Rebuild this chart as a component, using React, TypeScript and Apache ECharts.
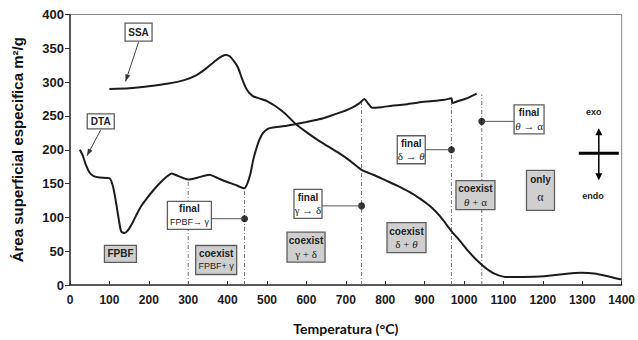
import React, { useEffect, useRef } from "react";
import * as echarts from "echarts";

// DTA trace: temperature (°C) and signal, drawn on the area scale
const dtaTemp = [
  25, 32, 40, 50, 60, 75, 100, 106, 112, 118, 124, 130, 138, 146, 156, 168, 180, 195, 210, 227,
  245, 258, 275, 300, 325, 354, 375, 396, 420, 442, 450, 458, 465, 472, 480, 490, 502, 515, 545,
  573, 600, 632, 660, 690, 715, 735, 747, 757, 767, 790, 817, 850, 884, 920, 950, 968, 971, 985,
  1002, 1018, 1032,
];
const dtaSignal = [
  200, 192, 178, 166, 161, 159, 158, 152, 138, 118, 96, 79, 77, 80, 89, 103, 116, 128, 139, 150,
  160, 165, 161, 156, 159, 163, 158, 153, 148, 143, 150, 165, 185, 200, 214, 225, 231, 233, 235,
  238, 241, 245, 250, 256, 262, 269, 275, 268, 262, 263, 265, 267, 270, 272, 274, 276, 269, 272,
  275, 279, 283,
];

// Specific surface area: temperature (°C) and m²/g
const ssaTemp = [
  100, 150, 200, 250, 290, 320, 345, 370, 385, 396, 406, 416, 426, 436, 445, 455, 465, 480, 500,
  520, 545, 573, 600, 632, 655, 680, 710, 741, 770, 800, 830, 860, 890, 915, 940, 969, 990, 1011,
  1030, 1045, 1062, 1080, 1104, 1150, 1205, 1250, 1297, 1330, 1365, 1400,
];
const ssaArea = [
  290, 291, 294, 298, 303, 310, 320, 332, 338, 340, 338, 331, 322, 306, 293, 284, 279, 276, 272,
  265, 254, 238, 226, 213, 205, 196, 184, 170, 163, 155, 147, 138, 127, 116, 101, 79, 65, 50,
  38, 30, 22, 16, 12, 12, 13, 16, 18, 17, 13, 8,
];

// Phase boundaries (°C) and the height each dash-dot guide reaches
const boundaryTemp = [300, 443, 740, 968, 1045];
const boundaryTop = [157, 144, 272, 276, 282];

// End points of each transformation
const endTemp = [443, 740, 968, 1045];
const endValue = [98, 117, 200, 242];

type Box = {
  at: [number, number];
  w: number;
  h: number;
  shaded: boolean;
  text: string;
  link?: number;
};

const boxes: Box[] = [
  { at: [174, 374], w: 27, h: 18, shaded: false, text: "{s|SSA}" },
  { at: [78, 242], w: 27, h: 15, shaded: false, text: "{s|DTA}" },
  { at: [128, 46], w: 32, h: 17, shaded: true, text: "{s|FPBF}" },
  { at: [371, 37], w: 41, h: 29, shaded: true, text: "{h|coexist}\n{m|FPBF+ γ}" },
  { at: [303, 103], w: 44, h: 28, shaded: false, text: "{h|final}\n{m|FPBF→ γ}", link: 0 },
  { at: [604, 120], w: 28, h: 29, shaded: false, text: "{h|final}\n{g|γ → δ}", link: 1 },
  { at: [599, 56], w: 38, h: 30, shaded: true, text: "{h|coexist}\n{g|γ + δ}" },
  { at: [854, 70], w: 39, h: 30, shaded: true, text: "{h|coexist}\n{g|δ + }{i|θ}" },
  { at: [866, 200], w: 28, h: 28, shaded: false, text: "{h|final}\n{g|δ → }{i|θ}", link: 2 },
  { at: [1029, 133], w: 39, h: 29, shaded: true, text: "{h|coexist}\n{i|θ}{g| + α}" },
  { at: [1165, 245], w: 30, h: 29, shaded: false, text: "{h|final}\n{i|θ}{g| → α}", link: 3 },
  { at: [1194, 140], w: 28, h: 40, shaded: true, text: "{h|only}\n{a|α}" },
];

// Callout arrows: box index and the point on the curve they indicate
const callouts: { box: number; tip: [number, number] }[] = [
  { box: 0, tip: [141, 301] },
  { box: 1, tip: [43, 191] },
];

const SANS = "Arial";
const SERIF = "Liberation Serif";

const rich = {
  s: { fontFamily: SANS, fontWeight: "bold", fontSize: 10, fill: "#222", lineHeight: 12 },
  h: { fontFamily: SANS, fontWeight: "bold", fontSize: 10, fill: "#222", lineHeight: 13 },
  m: { fontFamily: SANS, fontSize: 9, fill: "#222", lineHeight: 13 },
  g: { fontFamily: SERIF, fontSize: 11, fill: "#222", lineHeight: 13 },
  i: { fontFamily: SERIF, fontStyle: "italic", fontSize: 11, fill: "#222", lineHeight: 13 },
  a: { fontFamily: SERIF, fontSize: 12, fill: "#222", lineHeight: 22 },
};

function arrowHead(from: number[], to: number[], len: number, half: number, color: string) {
  const dx = to[0] - from[0];
  const dy = to[1] - from[1];
  const d = Math.hypot(dx, dy) || 1;
  const ux = dx / d;
  const uy = dy / d;
  const bx = to[0] - ux * len;
  const by = to[1] - uy * len;
  return {
    type: "polygon",
    z: 120,
    shape: {
      points: [
        [to[0], to[1]],
        [bx - uy * half, by + ux * half],
        [bx + uy * half, by - ux * half],
      ],
    },
    style: { fill: color },
  };
}

export default function App() {
  const ref = useRef<HTMLDivElement>(null);

  useEffect(() => {
    if (!ref.current) return;
    const chart = echarts.init(ref.current, null, { renderer: "svg" });

    const guideSeries = boundaryTemp.map((t, i) => ({
      type: "line",
      data: [
        [t, 0],
        [t, boundaryTop[i]],
      ],
      symbol: "none",
      silent: true,
      z: 1,
      lineStyle: { color: "#7a7a7a", width: 1, type: [4, 2, 1, 2] },
    }));

    chart.setOption({
      animation: false,
      textStyle: { fontFamily: SANS },
      grid: {
        left: 70,
        right: 14,
        top: 14.5,
        bottom: 52.5,
        show: true,
        borderColor: "#8a8a8a",
        borderWidth: 1,
      },
      xAxis: {
        type: "value",
        min: 0,
        max: 1400,
        interval: 100,
        name: "Temperatura (°C)",
        nameLocation: "middle",
        nameGap: 36,
        nameTextStyle: { fontFamily: "Lato", fontWeight: "bold", fontSize: 14, color: "#111" },
        axisLine: { lineStyle: { color: "#333", width: 1.5 } },
        axisTick: { inside: true, length: 4, lineStyle: { color: "#333" } },
        axisLabel: {
          fontFamily: SANS,
          fontWeight: "bold",
          fontSize: 12,
          color: "#1a1a1a",
          margin: 9,
          formatter: (v: number) => String(v),
        },
        splitLine: { show: false },
      },
      yAxis: {
        type: "value",
        min: 0,
        max: 400,
        interval: 50,
        name: "Área superficial especifica m²/g",
        nameLocation: "middle",
        nameRotate: 90,
        nameGap: 45,
        nameTextStyle: { fontFamily: SANS, fontWeight: "bold", fontSize: 15, color: "#111" },
        axisLine: { show: true, lineStyle: { color: "#333", width: 1.5 } },
        axisTick: { show: true, length: 5, lineStyle: { color: "#333" } },
        axisLabel: {
          fontFamily: SANS,
          fontWeight: "bold",
          fontSize: 13,
          color: "#1a1a1a",
          margin: 6,
          formatter: (v: number) => String(v),
        },
        splitLine: { show: false },
      },
      series: [
        ...guideSeries,
        {
          name: "DTA",
          type: "line",
          data: dtaTemp.map((t, i) => [t, dtaSignal[i]]),
          symbol: "none",
          smooth: 0.2,
          z: 3,
          lineStyle: { color: "#1c1c1c", width: 2 },
        },
        {
          name: "SSA",
          type: "line",
          data: ssaTemp.map((t, i) => [t, ssaArea[i]]),
          symbol: "none",
          smooth: 0.2,
          z: 3,
          lineStyle: { color: "#1c1c1c", width: 2 },
        },
        {
          name: "final",
          type: "scatter",
          data: endTemp.map((t, i) => [t, endValue[i]]),
          symbol: "circle",
          symbolSize: 7,
          z: 5,
          itemStyle: { color: "#000" },
        },
      ],
    });

    const px = (p: [number, number]) => chart.convertToPixel({ gridIndex: 0 }, p) as number[];
    const els: any[] = [];

    boxes.forEach((b) => {
      const [cx, cy] = px(b.at);
      const left = cx - b.w / 2;
      const right = cx + b.w / 2;
      if (b.link !== undefined) {
        const [dx, dy] = px([endTemp[b.link], endValue[b.link]]);
        const edge = dx > cx ? right : left;
        els.push({
          type: "line",
          z: 90,
          shape: { x1: edge, y1: dy, x2: dx, y2: dy },
          style: { stroke: "#555", lineWidth: 1 },
        });
      }
      els.push({
        type: "rect",
        z: 100,
        shape: { x: left, y: cy - b.h / 2, width: b.w, height: b.h },
        style: { fill: b.shaded ? "#cfcfcf" : "#ffffff", stroke: "#5e5e5e", lineWidth: 1.3 },
      });
      els.push({
        type: "text",
        z: 110,
        x: cx,
        y: cy,
        style: { text: b.text, rich, align: "center", verticalAlign: "middle" },
      });
    });

    callouts.forEach((c) => {
      const b = boxes[c.box];
      const [cx, cy] = px(b.at);
      const start = [cx, cy + b.h / 2 + 1];
      const tip = px(c.tip);
      els.push({
        type: "line",
        z: 115,
        shape: { x1: start[0], y1: start[1], x2: tip[0], y2: tip[1] },
        style: { stroke: "#444", lineWidth: 1 },
      });
      els.push(arrowHead(start, tip, 7, 2.5, "#333"));
    });

    // exo / endo reference cross
    const [kx, ky] = px([1342, 195]);
    els.push({
      type: "line",
      z: 115,
      shape: { x1: kx - 20, y1: ky, x2: kx + 20, y2: ky },
      style: { stroke: "#000", lineWidth: 3 },
    });
    els.push({
      type: "line",
      z: 115,
      shape: { x1: kx, y1: ky - 20, x2: kx, y2: ky + 22 },
      style: { stroke: "#000", lineWidth: 1.5 },
    });
    els.push(arrowHead([kx, ky], [kx, ky - 25], 7, 3.5, "#000"));
    els.push(arrowHead([kx, ky], [kx, ky + 27], 7, 3.5, "#000"));

    const [ex, ey] = px([1329, 256]);
    els.push({
      type: "text",
      z: 110,
      x: ex,
      y: ey,
      style: { text: "exo", font: `bold 9px ${SANS}`, fill: "#222", align: "center", verticalAlign: "middle" },
    });
    const [nx, ny] = px([1327, 131]);
    els.push({
      type: "text",
      z: 110,
      x: nx,
      y: ny,
      style: { text: "endo", font: `bold 9px ${SANS}`, fill: "#222", align: "center", verticalAlign: "middle" },
    });

    chart.setOption({ graphic: { elements: els } });

    return () => chart.dispose();
  }, []);

  return (
    <div
      ref={ref}
      style={{ position: "fixed", left: 0, top: 0, width: 638, height: 340, background: "#fff" }}
    />
  );
}
